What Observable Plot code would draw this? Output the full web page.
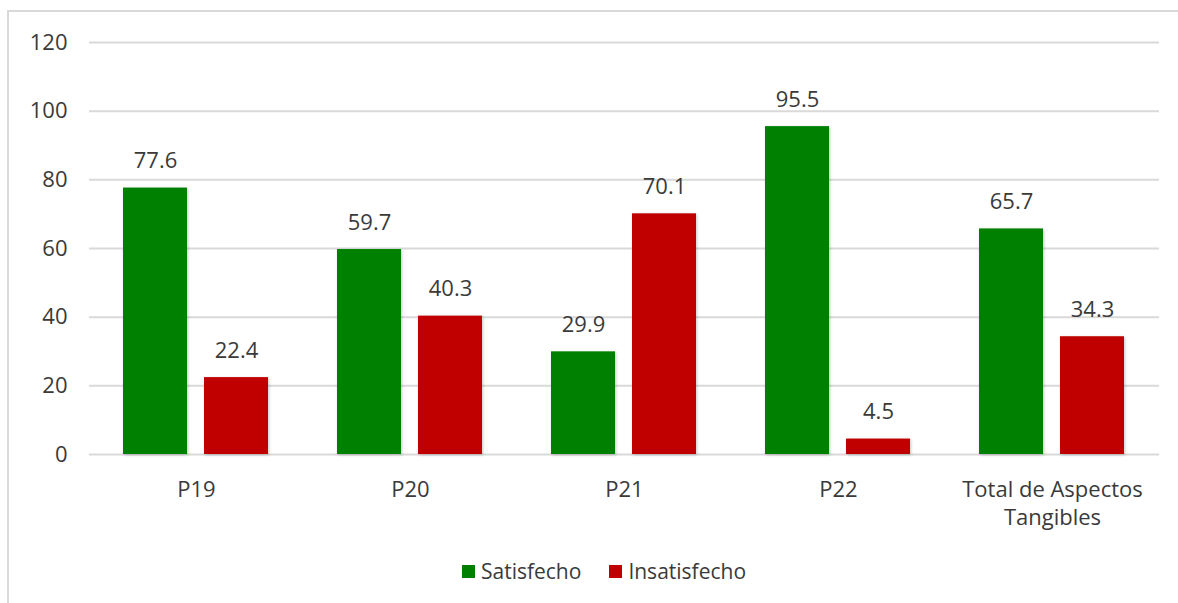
<!DOCTYPE html>
<html>
<head>
<meta charset="utf-8">
<script src="https://cdn.jsdelivr.net/npm/d3@7"></script>
<script src="https://cdn.jsdelivr.net/npm/@observablehq/plot@0.6"></script>
<style>
  html, body { margin: 0; padding: 0; background: #fff; overflow: hidden; }
  #wrap { position: relative; width: 1178px; height: 603px; overflow: hidden; font-family: "Open Sans", sans-serif; }
  #frame { position: absolute; left: 7px; top: 10px; width: 1200px; height: 620px; border: 2px solid #d9d9d9; box-sizing: border-box; }
  #chart { position: absolute; left: 0; top: 0; }
  #chart g[aria-label="bar"] rect { filter: drop-shadow(1.5px 1.5px 1.5px rgba(0,0,0,0.22)); }
  #legend { position: absolute; left: 0; top: 557px; width: 1178px; display: flex; justify-content: center; align-items: center; padding-left: 30px; box-sizing: border-box; font-size: 21px; color: #3a3a3a; }
  .item { display: flex; align-items: center; margin: 0 14px; }
  .sw { width: 13px; height: 13px; margin-right: 6px; }
</style>
</head>
<body>
<div id="wrap">
  <div id="frame"></div>
  <div id="chart"></div>
  <div id="legend"></div>
</div>
<script>
const categories = ["P19", "P20", "P21", "P22", "Total de Aspectos\nTangibles"];
const series = ["Satisfecho", "Insatisfecho"];
const satisfecho = [77.6, 59.7, 29.9, 95.5, 65.7];
const insatisfecho = [22.4, 40.3, 70.1, 4.5, 34.3];
const yTicks = [0, 20, 40, 60, 80, 100, 120];
const colors = ["#008000", "#C00000"];

const data = [];
categories.forEach((c, i) => {
  data.push({category: c, series: series[0], value: satisfecho[i]});
  data.push({category: c, series: series[1], value: insatisfecho[i]});
});

const textColor = "#3a3a3a";
const plot = Plot.plot({
  width: 1178,
  height: 530,
  marginTop: 42,
  marginBottom: 76,
  marginLeft: 88,
  marginRight: 18,
  style: {fontFamily: "'Open Sans', sans-serif", background: "transparent", overflow: "visible"},
  fx: {domain: categories, padding: 0, label: null, axis: null},
  x: {domain: series, paddingInner: 0.207, paddingOuter: 0.411, axis: null},
  y: {domain: [0, 120], axis: null},
  color: {domain: series, range: colors},
  marks: [
    Plot.gridY(yTicks, {stroke: "#d9d9d9", strokeOpacity: 1, strokeWidth: 2}),
    Plot.axisY({ticks: yTicks, tickSize: 0, tickPadding: 22, fontSize: 22, fill: textColor, label: null}),
    Plot.axisFx({anchor: "bottom", tickSize: 0, tickPadding: 22, fontSize: 22, lineHeight: 1.3, fill: textColor, label: null}),
    Plot.barY(data, {fx: "category", x: "series", y: "value", fill: "series"}),
    Plot.text(data, {fx: "category", x: "series", y: "value", text: d => d.value.toFixed(1), dy: -27, fontSize: 22, fill: textColor})
  ]
});
document.getElementById("chart").appendChild(plot);

const legend = document.getElementById("legend");
series.forEach((s, i) => {
  const item = document.createElement("div");
  item.className = "item";
  const sw = document.createElement("div");
  sw.className = "sw";
  sw.style.background = colors[i];
  const t = document.createElement("span");
  t.textContent = s;
  item.appendChild(sw);
  item.appendChild(t);
  legend.appendChild(item);
});
</script>
</body>
</html>
